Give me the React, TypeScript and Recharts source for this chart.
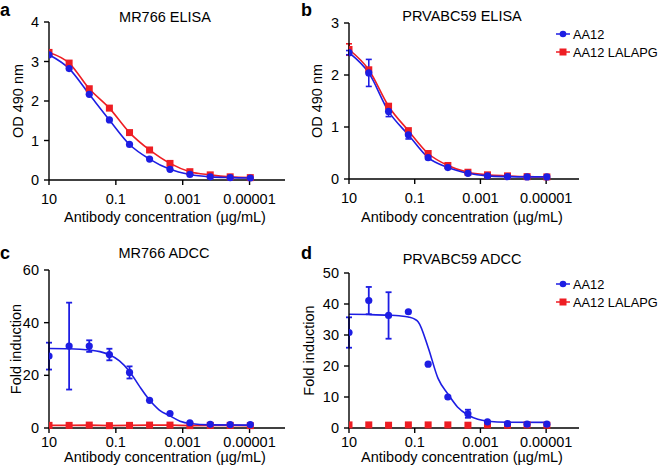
import { ComposedChart, Line, XAxis, YAxis, ErrorBar } from 'recharts';

// 4-fold dilution series, ug/mL
const conc = [10, 2.5, 0.625, 0.156, 0.039, 0.0098, 0.0024, 0.00061, 0.00015, 0.000038, 0.0000095];

// a: MR766 ELISA (OD 490)
const mrElisaAA12 = [3.17, 2.82, 2.17, 1.52, 0.9, 0.53, 0.27, 0.14, 0.08, 0.06, 0.05];
const mrElisaLalapg = [3.23, 2.96, 2.31, 1.82, 1.2, 0.76, 0.42, 0.21, 0.13, 0.08, 0.06];

// b: PRVABC59 ELISA
const prElisaAA12 = [2.43, 2.04, 1.3, 0.85, 0.41, 0.22, 0.11, 0.06, 0.045, 0.04, 0.04];
const prElisaAA12Err = [0.04, 0.26, 0.1, 0.08, 0.03, 0, 0, 0, 0, 0, 0];
const prElisaLalapg = [2.49, 2.1, 1.4, 0.93, 0.49, 0.26, 0.13, 0.08, 0.06, 0.045, 0.04];
const prElisaLalapgErr = [0.11, 0, 0, 0, 0, 0, 0, 0, 0, 0, 0];

// c: MR766 ADCC (fold induction)
const mrAdccAA12 = [27.3, 31.1, 31.1, 27.9, 21.1, 10.5, 5.5, 2.0, 1.4, 1.3, 1.3];
const mrAdccAA12Err = [5.1, 16.5, 2.2, 2.2, 2.3, 0, 0, 0, 0, 0, 0];
const mrAdccLalapg = [1.0, 1.0, 1.1, 0.9, 1.0, 1.1, 1.1, 0.9, 1.0, 1.0, 0.9];
const mrAdccFitConc = [10, 2.5, 0.625, 0.3, 0.156, 0.078, 0.039, 0.02, 0.0098, 0.005, 0.0024, 0.0012, 0.0006, 0.00015, 0.0000095];
const mrAdccFit = [30.2, 30.1, 29.6, 29.0, 27.8, 25.5, 21.5, 16.0, 10.6, 6.8, 4.6, 2.6, 1.7, 1.2, 1.1];

// d: PRVABC59 ADCC
const prAdccAA12 = [30.8, 41.1, 36.3, 37.5, 20.6, 10.0, 4.6, 2.0, 1.4, 1.25, 1.25];
const prAdccAA12Err = [4.9, 4.4, 7.5, 0, 0, 0, 1.3, 0, 0, 0, 0];
const prAdccLalapg = [1.0, 1.0, 0.9, 1.0, 1.0, 1.0, 0.9, 1.0, 0.9, 1.0, 0.9];
const prAdccFitConc = [10, 2.5, 0.625, 0.3, 0.156, 0.1, 0.078, 0.039, 0.0195, 0.0098, 0.005, 0.0024, 0.0012, 0.0006, 0.00015, 0.0000095];
const prAdccFit = [36.7, 36.6, 36.4, 36.2, 35.8, 35.1, 34.2, 26.0, 16.0, 11.0, 6.8, 4.2, 2.8, 2.2, 1.85, 1.8];

const xTicks = [10, 0.1, 0.001, 0.00001];
const legendNames = ['AA12', 'AA12 LALAPG'];

const BLUE = '#1d1de3';
const RED = '#ee1d23';
const FONT = "'Liberation Sans', Arial, Helvetica, sans-serif";

const rows = (xs: number[], ys: number[], errs?: number[]) =>
  xs.map((x, i) => ({ x, y: ys[i], err: errs && errs[i] ? errs[i] : undefined }));

const squareDot = (props: any) => {
  const { cx, cy, index } = props;
  if (cx == null || cy == null) return <g key={index} />;
  return <rect key={index} x={cx - 3.5} y={cy - 3.5} width={7} height={7} fill={RED} />;
};
const circleDot = { r: 3.6, fill: BLUE, stroke: 'none' };

type PanelProps = {
  left: number;
  top: number;
  width: number;
  margin: { top: number; right: number; bottom: number; left: number };
  xDomain: [number, number];
  yDomain: [number, number];
  yTicks: number[];
  yLabel: string;
  yLabelOffset: number;
  xLabelOffset: number;
  xTickMargin: number;
  children: any;
};

function Panel(p: PanelProps) {
  const axisLine = { stroke: '#000', strokeWidth: 1.4 };
  const tick = { fill: '#000', fontSize: 14.5 };
  return (
    <div style={{ position: 'absolute', left: p.left, top: p.top }}>
      <ComposedChart width={p.width} height={236} margin={p.margin}>
        <XAxis
          dataKey="x"
          type="number"
          scale="log"
          domain={p.xDomain}
          reversed
          ticks={xTicks}
          tickFormatter={(v: number) => String(v)}
          interval={0}
          allowDataOverflow
          height={44}
          axisLine={axisLine}
          tickLine={axisLine}
          tickSize={5}
          tickMargin={p.xTickMargin}
          tick={tick}
          label={{ value: 'Antibody concentration (µg/mL)', position: 'insideBottom', offset: p.xLabelOffset, dx: -2, fill: '#000', fontSize: 14.5 }}
        />
        <YAxis
          type="number"
          domain={p.yDomain}
          ticks={p.yTicks}
          interval={0}
          width={49}
          axisLine={axisLine}
          tickLine={axisLine}
          tickSize={5}
          tickMargin={5}
          tick={tick}
          label={{ value: p.yLabel, angle: -90, position: 'insideLeft', offset: p.yLabelOffset, fill: '#000', fontSize: 14.5, style: { textAnchor: 'middle' } }}
        />
        {p.children}
      </ComposedChart>
    </div>
  );
}

function Title({ text, cx, cy }: { text: string; cx: number; cy: number }) {
  return (
    <div style={{ position: 'absolute', left: cx - 100, top: cy - 8, width: 200, textAlign: 'center', fontSize: 14.5, lineHeight: '16px', whiteSpace: 'nowrap' }}>
      {text}
    </div>
  );
}

// panel letter, top of box at `top` so nothing is clipped by the page edge
function PanelLetter({ text, x, top }: { text: string; x: number; top: number }) {
  return (
    <div style={{ position: 'absolute', left: x, top, fontSize: 18, fontWeight: 'bold', lineHeight: '20px' }}>
      {text}
    </div>
  );
}

function SeriesLegend({ x, y }: { x: number; y: number }) {
  return (
    <div style={{ position: 'absolute', left: x, top: y, fontSize: 12.8, whiteSpace: 'nowrap' }}>
      {legendNames.map((name, i) => (
        <div key={name} style={{ display: 'flex', alignItems: 'center', height: 18 }}>
          <svg width={16} height={10} style={{ marginRight: 2, flex: 'none' }}>
            <line x1={1} y1={5} x2={15} y2={5} stroke={i === 0 ? BLUE : RED} strokeWidth={1.5} />
            {i === 0 ? <circle cx={8} cy={5} r={3.3} fill={BLUE} /> : <rect x={4.5} y={1.5} width={7} height={7} fill={RED} />}
          </svg>
          <span>{name}</span>
        </div>
      ))}
    </div>
  );
}

export default function App() {
  const aBlue = rows(conc, mrElisaAA12);
  const aRed = rows(conc, mrElisaLalapg);
  const bBlue = rows(conc, prElisaAA12, prElisaAA12Err);
  const bRed = rows(conc, prElisaLalapg, prElisaLalapgErr);
  const cBlue = rows(conc, mrAdccAA12, mrAdccAA12Err);
  const cRed = rows(conc, mrAdccLalapg);
  const cFit = rows(mrAdccFitConc, mrAdccFit);
  const dBlue = rows(conc, prAdccAA12, prAdccAA12Err);
  const dRed = rows(conc, prAdccLalapg);
  const dFit = rows(prAdccFitConc, prAdccFit);

  return (
    <div style={{ position: 'absolute', left: 0, top: 0, width: 659, height: 472, background: '#fff', fontFamily: FONT, color: '#000', overflow: 'hidden' }}>
      {/* a */}
      <Panel left={0} top={0} width={300} margin={{ top: 22, right: 15, bottom: 12, left: 0 }}
        xDomain={[8.7e-7, 10]} yDomain={[0, 4]} yTicks={[0, 1, 2, 3, 4]} yLabel="OD 490 nm"
        yLabelOffset={17.5} xLabelOffset={2} xTickMargin={9}>
        <Line data={aRed} dataKey="y" type="monotone" stroke={RED} strokeWidth={1.6} dot={squareDot} activeDot={false} isAnimationActive={false} />
        <Line data={aBlue} dataKey="y" type="monotone" stroke={BLUE} strokeWidth={1.6} dot={circleDot} activeDot={false} isAnimationActive={false} />
      </Panel>

      {/* b */}
      <Panel left={300} top={0} width={359} margin={{ top: 23, right: 80, bottom: 13, left: 0 }}
        xDomain={[1e-6, 10]} yDomain={[0, 3]} yTicks={[0, 1, 2, 3]} yLabel="OD 490 nm"
        yLabelOffset={17} xLabelOffset={1} xTickMargin={9}>
        <Line data={bRed} dataKey="y" type="monotone" stroke={RED} strokeWidth={1.6} dot={squareDot} activeDot={false} isAnimationActive={false}>
          <ErrorBar dataKey="err" width={3} stroke={RED} strokeWidth={1.6} direction="y" />
        </Line>
        <Line data={bBlue} dataKey="y" type="monotone" stroke={BLUE} strokeWidth={1.6} dot={circleDot} activeDot={false} isAnimationActive={false}>
          <ErrorBar dataKey="err" width={3} stroke={BLUE} strokeWidth={1.6} direction="y" />
        </Line>
      </Panel>

      {/* c */}
      <Panel left={0} top={236} width={300} margin={{ top: 34, right: 15, bottom: 0, left: 0 }}
        xDomain={[8.7e-7, 10]} yDomain={[0, 60]} yTicks={[0, 20, 40, 60]} yLabel="Fold induction"
        yLabelOffset={16} xLabelOffset={10} xTickMargin={4}>
        <Line data={cRed} dataKey="y" type="linear" stroke={RED} strokeWidth={1.6} dot={squareDot} activeDot={false} isAnimationActive={false} />
        <Line data={cFit} dataKey="y" type="monotone" stroke={BLUE} strokeWidth={1.6} dot={false} activeDot={false} isAnimationActive={false} />
        <Line data={cBlue} dataKey="y" stroke="none" dot={circleDot} activeDot={false} isAnimationActive={false}>
          <ErrorBar dataKey="err" width={3} stroke={BLUE} strokeWidth={1.8} direction="y" />
        </Line>
      </Panel>

      {/* d */}
      <Panel left={300} top={236} width={359} margin={{ top: 37, right: 80, bottom: 0, left: 0 }}
        xDomain={[1e-6, 10]} yDomain={[0, 50]} yTicks={[0, 10, 20, 30, 40, 50]} yLabel="Fold induction"
        yLabelOffset={9} xLabelOffset={10} xTickMargin={4}>
        <Line data={dRed} dataKey="y" stroke="none" dot={squareDot} activeDot={false} isAnimationActive={false} />
        <Line data={dFit} dataKey="y" type="monotone" stroke={BLUE} strokeWidth={1.6} dot={false} activeDot={false} isAnimationActive={false} />
        <Line data={dBlue} dataKey="y" stroke="none" dot={circleDot} activeDot={false} isAnimationActive={false}>
          <ErrorBar dataKey="err" width={3} stroke={BLUE} strokeWidth={1.8} direction="y" />
        </Line>
      </Panel>

      <Title text="MR766 ELISA" cx={165} cy={17} />
      <Title text="PRVABC59 ELISA" cx={462} cy={16} />
      <Title text="MR766 ADCC" cx={164} cy={253} />
      <Title text="PRVABC59 ADCC" cx={462} cy={259} />

      <PanelLetter text="a" x={0} top={0} />
      <PanelLetter text="b" x={301} top={0} />
      <PanelLetter text="c" x={0} top={243} />
      <PanelLetter text="d" x={301} top={243} />

      <SeriesLegend x={555} y={25} />
      <SeriesLegend x={555} y={275} />
    </div>
  );
}
